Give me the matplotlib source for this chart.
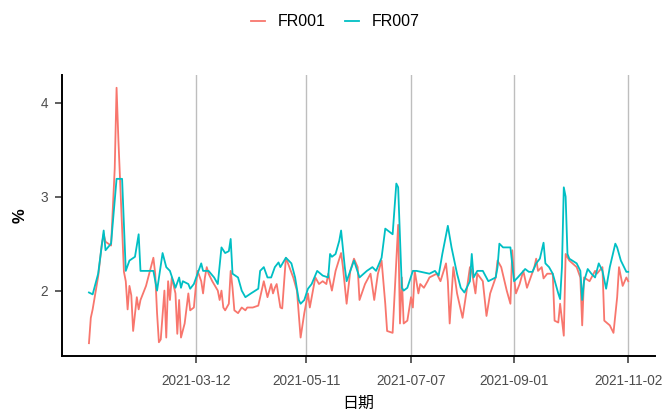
import matplotlib
matplotlib.use("Agg")
import matplotlib.pyplot as plt
import matplotlib.dates as mdates
import pandas as pd

# FR001 (red)
fr001_dates = [
    "01-13", "01-14", "01-15", "01-18", "01-20", "01-21", "01-22", "01-25", "01-27", "01-28",
    "01-29", "02-01", "02-02", "02-03", "02-04", "02-05", "02-06", "02-08", "02-09", "02-10",
    "02-13", "02-15", "02-17", "02-18", "02-19", "02-20", "02-21", "02-23", "02-24", "02-25",
    "02-26", "02-27", "03-01", "03-02", "03-03", "03-04", "03-06", "03-08", "03-09", "03-11",
    "03-12", "03-13", "03-15", "03-16", "03-17", "03-18", "03-19", "03-21", "03-24", "03-25",
    "03-26", "03-27", "03-28", "03-30", "03-31", "04-01", "04-02", "04-04", "04-06", "04-08",
    "04-09", "04-12", "04-15", "04-18", "04-20", "04-22", "04-23", "04-24", "04-25", "04-27",
    "04-28", "04-30", "05-04", "05-06", "05-08", "05-10", "05-12", "05-13", "05-16", "05-18",
    "05-20", "05-22", "05-23", "05-25", "05-27", "05-30", "05-31", "06-02", "06-04", "06-06",
    "06-08", "06-09", "06-12", "06-15", "06-17", "06-19", "06-21", "06-23", "06-24", "06-27",
    "06-30", "07-01", "07-02", "07-03", "07-05", "07-07", "07-08", "07-09", "07-11", "07-12",
    "07-14", "07-16", "07-17", "07-21", "07-23", "07-26", "07-27", "07-28", "07-30", "08-01",
    "08-04", "08-06", "08-08", "08-09", "08-11", "08-12", "08-15", "08-17", "08-19", "08-22",
    "08-23", "08-25", "08-28", "08-30", "08-31", "09-01", "09-02", "09-04", "09-06", "09-08",
    "09-10", "09-12", "09-13", "09-14", "09-16", "09-17", "09-19", "09-22", "09-23", "09-25",
    "09-26", "09-28", "09-29", "10-01", "10-05", "10-07", "10-08", "10-09", "10-12", "10-15",
    "10-16", "10-19", "10-20", "10-23", "10-25", "10-27", "10-28", "10-30", "11-01", "11-02",
]
fr001 = [
    1.44, 1.71, 1.80, 2.15, 2.50, 2.60, 2.52, 2.48, 3.30, 4.16,
    3.60, 2.20, 2.10, 1.80, 2.05, 1.95, 1.57, 1.93, 1.80, 1.90,
    2.05, 2.20, 2.35, 2.18, 1.76, 1.45, 1.48, 2.00, 1.50, 2.10,
    1.90, 2.14, 1.97, 1.54, 1.90, 1.50, 1.65, 1.97, 1.79, 1.82,
    2.03, 2.21, 2.10, 1.97, 2.14, 2.25, 2.18, 2.10, 2.00, 1.90,
    2.00, 1.82, 1.79, 1.86, 2.21, 2.03, 1.79, 1.76, 1.82, 1.79,
    1.82, 1.82, 1.84, 2.10, 1.93, 2.07, 1.97, 2.03, 2.07, 1.82,
    1.81, 2.35, 2.14, 2.00, 1.50, 1.76, 1.97, 1.82, 2.14, 2.07,
    2.10, 2.07, 2.18, 2.00, 2.21, 2.40, 2.25, 1.86, 2.21, 2.34,
    2.25, 1.90, 2.07, 2.18, 1.90, 2.18, 2.32, 1.86, 1.57, 1.55,
    2.70, 1.65, 2.14, 1.65, 1.68, 1.93, 1.82, 2.21, 1.97, 2.07,
    2.03, 2.10, 2.14, 2.18, 2.10, 2.29, 2.10, 1.65, 2.25, 1.97,
    1.71, 1.97, 2.25, 2.21, 1.97, 2.18, 2.10, 1.73, 1.97, 2.14,
    2.32, 2.25, 2.00, 1.86, 2.43, 2.14, 1.97, 2.07, 2.21, 2.03,
    2.14, 2.25, 2.34, 2.21, 2.25, 2.13, 2.18, 2.18, 1.68, 1.66,
    1.86, 1.52, 2.39, 2.32, 2.25, 2.14, 1.63, 2.14, 2.10, 2.21,
    2.18, 2.25, 1.68, 1.63, 1.55, 1.93, 2.25, 2.05, 2.14, 2.10,
]

# FR007 (teal)
fr007_dates = [
    "01-13", "01-15", "01-18", "01-21", "01-22", "01-25", "01-28", "01-31", "02-02", "02-04",
    "02-07", "02-09", "02-10", "02-17", "02-19", "02-22", "02-24", "02-26", "03-01", "03-03",
    "03-04", "03-05", "03-08", "03-09", "03-11", "03-15", "03-16", "03-19", "03-22", "03-24",
    "03-26", "03-28", "03-30", "03-31", "04-01", "04-04", "04-06", "04-08", "04-11", "04-15",
    "04-16", "04-18", "04-20", "04-22", "04-24", "04-26", "04-27", "04-30", "05-03", "05-05",
    "05-07", "05-08", "05-10", "05-12", "05-14", "05-17", "05-20", "05-23", "05-24", "05-25",
    "05-27", "05-29", "05-30", "06-01", "06-02", "06-06", "06-09", "06-13", "06-16", "06-18",
    "06-21", "06-23", "06-27", "06-29", "06-30", "07-02", "07-03", "07-05", "07-08", "07-10",
    "07-17", "07-20", "07-22", "07-24", "07-27", "07-29", "08-01", "08-03", "08-05", "08-08",
    "08-09", "08-10", "08-12", "08-15", "08-18", "08-22", "08-23", "08-24", "08-26", "08-30",
    "09-01", "09-03", "09-07", "09-09", "09-11", "09-13", "09-15", "09-17", "09-18", "09-20",
    "09-22", "09-25", "09-26", "09-27", "09-28", "09-29", "09-30", "10-01", "10-05", "10-07",
    "10-08", "10-09", "10-11", "10-13", "10-15", "10-17", "10-19", "10-21", "10-23", "10-26",
    "10-27", "10-29", "11-01", "11-02",
]
fr007 = [
    1.98, 1.96, 2.18, 2.64, 2.43, 2.50, 3.19, 3.19, 2.21, 2.32,
    2.36, 2.60, 2.21, 2.21, 2.00, 2.40, 2.25, 2.21, 2.03, 2.14,
    2.03, 2.10, 2.07, 2.02, 2.07, 2.29, 2.21, 2.21, 2.14, 2.07,
    2.46, 2.40, 2.42, 2.55, 2.18, 2.14, 2.00, 1.93, 1.97, 2.02,
    2.21, 2.25, 2.14, 2.14, 2.25, 2.30, 2.25, 2.35, 2.29, 2.14,
    1.90, 1.86, 1.90, 2.02, 2.07, 2.21, 2.16, 2.14, 2.39, 2.36,
    2.39, 2.53, 2.64, 2.25, 2.10, 2.32, 2.14, 2.21, 2.25, 2.21,
    2.35, 2.66, 2.60, 3.14, 3.10, 2.03, 2.00, 2.03, 2.21, 2.21,
    2.18, 2.21, 2.16, 2.39, 2.69, 2.46, 2.18, 2.03, 1.98, 2.10,
    2.39, 2.14, 2.21, 2.21, 2.10, 2.14, 2.25, 2.50, 2.46, 2.46,
    2.10, 2.14, 2.23, 2.20, 2.20, 2.29, 2.34, 2.51, 2.29, 2.25,
    2.18, 1.97, 1.91, 2.25, 3.10, 3.00, 2.39, 2.34, 2.29, 2.21,
    1.90, 2.10, 2.23, 2.18, 2.14, 2.29, 2.21, 2.02, 2.25, 2.50,
    2.46, 2.32, 2.20, 2.20,
]

tick_dates = ["2021-03-12", "2021-05-11", "2021-07-07", "2021-09-01", "2021-11-02"]

d1 = pd.to_datetime(["2021-" + d for d in fr001_dates])
d7 = pd.to_datetime(["2021-" + d for d in fr007_dates])
ticks = pd.to_datetime(tick_dates)

fig = plt.figure(figsize=(6.71, 4.12), dpi=100)
ax = fig.add_axes([0.0924, 0.136, 0.884, 0.682])

ax.plot(d1, fr001, color="#F8766D", lw=1.3, label="FR001")
ax.plot(d7, fr007, color="#00BFC4", lw=1.3, label="FR007")

ax.margins(x=0.05, y=0.05)
ax.set_xticks(ticks)
ax.xaxis.set_major_formatter(mdates.DateFormatter("%Y-%m-%d"))
ax.set_yticks([2, 3, 4])
ax.grid(axis="x", color="#BEBEBE", lw=1.0)
ax.set_axisbelow(True)

for s in ["top", "right"]:
    ax.spines[s].set_visible(False)
for s in ["left", "bottom"]:
    ax.spines[s].set_linewidth(1.4)
    ax.spines[s].set_color("black")

ax.tick_params(axis="both", length=5, width=1.1, color="#333333",
               labelcolor="#4D4D4D", labelsize=9.8, labelfontfamily="Liberation Sans")
ax.tick_params(axis="x", pad=8)
ax.tick_params(axis="y", pad=5)

ax.set_xlabel("日期", fontsize=11.5, family=["Noto Sans CJK SC", "DejaVu Sans"], labelpad=5)
ax.set_ylabel("%", fontsize=12, fontweight="bold", family="Liberation Sans", labelpad=9)

fig.legend(loc="upper center", bbox_to_anchor=(0.5, 1.0), ncol=2, frameon=False,
           handlelength=0.9, handletextpad=0.8, columnspacing=1.2,
           prop={"family": "Liberation Sans", "size": 11.5})

fig.savefig("out.png", dpi=100)
